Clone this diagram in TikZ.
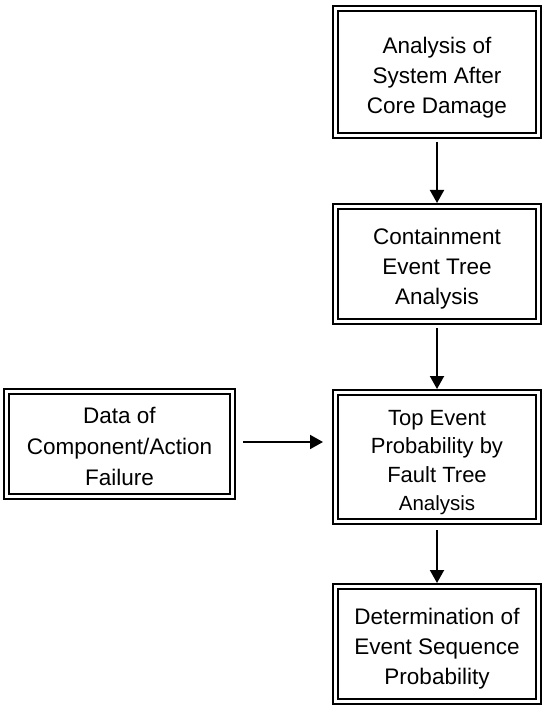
\documentclass[tikz,border=0pt]{standalone}
\usepackage{fontspec}
\setmainfont{Liberation Sans}
\usetikzlibrary{arrows.meta}
\newcommand{\topst}[1]{\rule{0pt}{#1}}
\begin{document}
\begin{tikzpicture}[x=1pt,y=-1pt,
  box/.style={draw, double, double distance=2.6pt, line width=2pt,
    inner sep=0pt, outer sep=3.3pt, minimum width=203.4pt, align=center,
    font=\fontsize{22.5}{30}\selectfont},
  flow/.style={line width=2pt, -{Triangle[length=13pt,width=14pt]}}]
\useasboundingbox (0,0) rectangle (545,708);
\node[box, minimum height=127.4pt] (b1) at (437,72) {\topst{28.5pt}Analysis of\\System After\\Core Damage};
\node[box, minimum height=115.4pt] (b2) at (437,264) {\topst{25pt}Containment\\Event Tree\\Analysis};
\node[box, minimum height=129.4pt, font=\fontsize{22}{28.5}\selectfont] (b3) at (437,457) {\topst{26.5pt}Top Event\\Probability by\\Fault Tree\\{\fontsize{20.5}{28.5}\selectfont Analysis}};
\node[box, minimum height=115.4pt] (b5) at (437,644) {\topst{26.5pt}Determination of\\Event Sequence\\Probability};
\node[box, minimum width=226.4pt, minimum height=105.4pt, font=\fontsize{22.5}{31}\selectfont] (data) at (119.5,444) {\topst{22pt}Data of\\Component/Action\\Failure};
\draw[flow, shorten <=3pt] (b1) -- (b2);
\draw[flow, shorten <=3pt] (b2) -- (b3);
\draw[flow, shorten <=5pt] (b3) -- (b5);
\draw[flow, shorten <=7pt, shorten >=9pt] ([yshift=2pt]data.east) -- ([yshift=2pt]data.east -| b3.west);
\end{tikzpicture}
\end{document}
